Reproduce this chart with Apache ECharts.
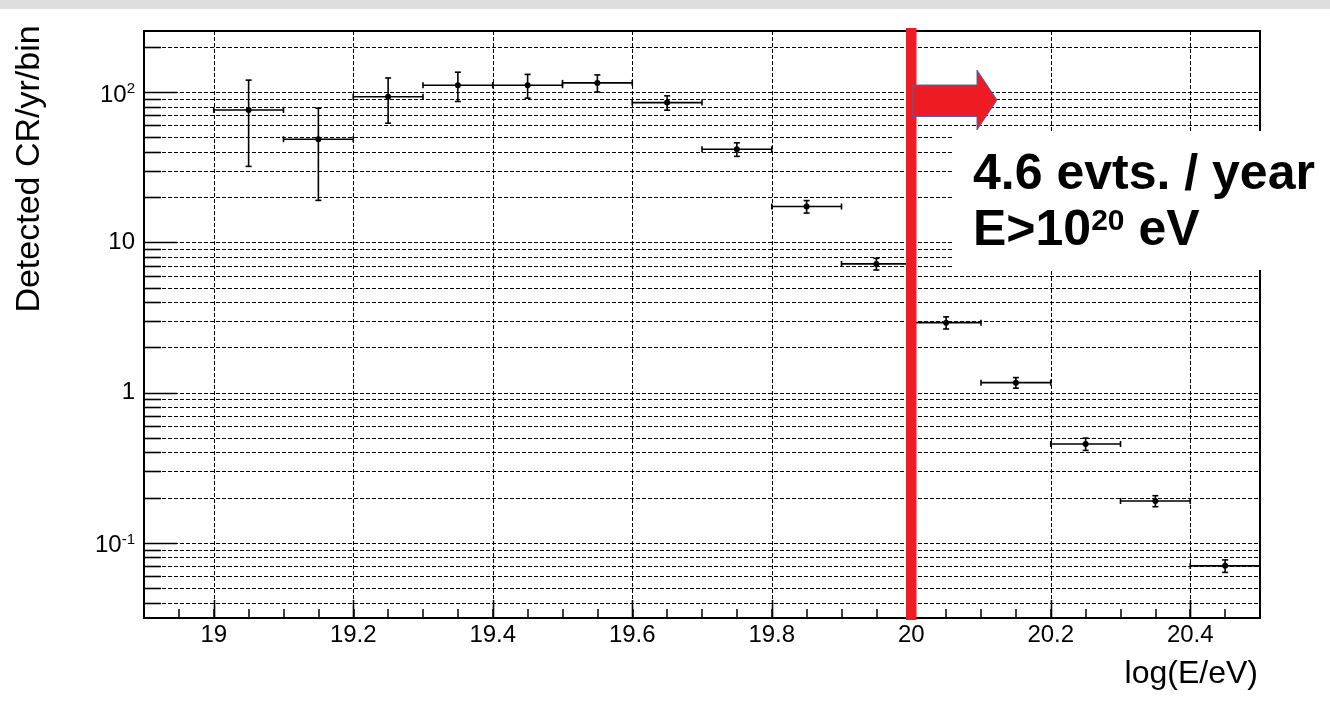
<!DOCTYPE html>
<html><head><meta charset="utf-8">
<script src="https://cdn.jsdelivr.net/npm/echarts@6/dist/echarts.min.js"></script>
<style>html,body{margin:0;padding:0;background:#fff}#c{width:1330px;height:718px}</style>
</head><body><div id="c"></div>
<script>
// ---- data ----
const binCenters = [19.05, 19.15, 19.25, 19.35, 19.45, 19.55, 19.65, 19.75, 19.85, 19.95, 20.05, 20.15, 20.25, 20.35, 20.45];
const binHalfWidth = 0.05;
const counts = [76, 48.5, 93, 111, 111, 115, 85, 41.6, 17.3, 7.18, 2.92, 1.164, 0.455, 0.190, 0.0703];
const countErrors = [44, 29.5, 31, 24.5, 20, 15, 9.3, 4.3, 1.65, 0.64, 0.27, 0.094, 0.043, 0.016, 0.0067];
const xGridValues = [19, 19.2, 19.4, 19.6, 19.8, 20, 20.2, 20.4];
const yMajorValues = [0.1, 1, 10, 100];
const yMinorValues = [0.04, 0.05, 0.06, 0.07, 0.08, 0.09, 0.2, 0.3, 0.4, 0.5, 0.6, 0.7, 0.8, 0.9,
  2, 3, 4, 5, 6, 7, 8, 9, 20, 30, 40, 50, 60, 70, 80, 90, 200];
const cutEnergy = 20;
const annotationLines = ['4.6 evts. / year', 'E>10{s|20} eV'];
const xTitle = 'log(E/eV)';
const yTitle = 'Detected CR/yr/bin';
const xMin = 18.9, xMax = 20.5, xTickStep = 0.05;
const yMin = Math.pow(10, -1.5), yMax = Math.pow(10, 2.406);

const FONT = '"Liberation Sans", Arial, Helvetica, sans-serif';
const chart = echarts.init(document.getElementById('c'), null, {renderer: 'canvas'});

const yGridRows = yMajorValues.map(v => [xMin, v, 1]).concat(yMinorValues.map(v => [xMin, v, 0]));
const xGridRows = xGridValues.map(v => [v, yMin]);
const pointRows = binCenters.map((x, i) => [x, counts[i], countErrors[i]]);
const DASH = [4, 2];

function px(v) { return Math.round(v) + 0.5; }

const option = {
  backgroundColor: '#fff',
  animation: false,
  grid: {left: 144, right: 70, top: 31, bottom: 100, show: true, borderColor: '#000', borderWidth: 2,
    backgroundColor: 'transparent', containLabel: false, outerBoundsMode: 'none'},
  xAxis: {
    type: 'value', min: xMin, max: xMax, interval: xTickStep,
    axisLine: {show: true, onZero: false, lineStyle: {color: '#000', width: 2}},
    axisTick: {show: true, inside: true, length: 9, lineStyle: {color: '#000', width: 1.5}},
    splitLine: {show: false},
    axisLabel: {
      show: true, margin: 5, color: '#000', fontSize: 24, fontFamily: FONT,
      showMinLabel: true, showMaxLabel: true,
      formatter: v => {
        const k = v * 5;
        if (Math.abs(k - Math.round(k)) > 1e-6) return '';
        const r = Math.round(k) / 5;
        return Number.isInteger(r) ? String(r) : r.toFixed(1);
      }
    }
  },
  yAxis: {
    type: 'log', logBase: 10, min: yMin, max: yMax,
    axisLine: {show: true, lineStyle: {color: '#000', width: 2}},
    axisTick: {show: false},
    splitLine: {show: false},
    axisLabel: {
      show: true, margin: 9, color: '#000', fontSize: 24, fontFamily: FONT,
      showMinLabel: true, showMaxLabel: true,
      formatter: v => {
        const lg = Math.log10(v);
        const e = Math.round(lg);
        if (Math.abs(lg - e) > 1e-6) return '';
        if (e === 0) return '{m|1}';
        if (e === 1) return '{m|10}';
        return '{n|10}{s|' + e + '}';
      },
      rich: {
        m: {fontSize: 24, fontFamily: FONT, color: '#000'},
        n: {fontSize: 24, fontFamily: FONT, color: '#000', padding: [6, 0, 0, 0]},
        s: {fontSize: 15, fontFamily: FONT, color: '#000', padding: [0, 0, 6, 0]}
      }
    }
  },
  series: [
    { // horizontal grid lines + y ticks
      type: 'custom', z: 1, silent: true, clip: false,
      data: yGridRows,
      renderItem: (params, api) => {
        const cs = params.coordSys;
        const y = px(api.coord([api.value(0), api.value(1)])[1]);
        const major = api.value(2) === 1;
        return {type: 'group', children: [
          {type: 'line', shape: {x1: cs.x, y1: y, x2: cs.x + cs.width, y2: y},
            style: {stroke: '#000', lineWidth: 1, lineDash: DASH}},
          {type: 'line', shape: {x1: cs.x, y1: y, x2: cs.x + (major ? 33 : 17), y2: y},
            style: {stroke: '#000', lineWidth: 1.6}}
        ]};
      }
    },
    { // vertical grid lines + major x ticks
      type: 'custom', z: 1, silent: true, clip: false,
      data: xGridRows,
      renderItem: (params, api) => {
        const cs = params.coordSys;
        const x = px(api.coord([api.value(0), api.value(1)])[0]);
        const b = cs.y + cs.height;
        return {type: 'group', children: [
          {type: 'line', shape: {x1: x, y1: cs.y, x2: x, y2: b},
            style: {stroke: '#000', lineWidth: 1, lineDash: DASH}},
          {type: 'line', shape: {x1: x, y1: b, x2: x, y2: b - 18},
            style: {stroke: '#000', lineWidth: 1.6}}
        ]};
      }
    },
    { // data points with error bars
      type: 'custom', z: 3, clip: false,
      data: pointRows,
      renderItem: (params, api) => {
        const x = api.value(0), y = api.value(1), e = api.value(2);
        const c = api.coord([x, y]);
        const l = api.coord([x - binHalfWidth, y]);
        const r = api.coord([x + binHalfWidth, y]);
        const t = api.coord([x, y + e]);
        const b = api.coord([x, y - e]);
        const st = {stroke: '#000', lineWidth: 1.6};
        const cap = 3;
        return {type: 'group', children: [
          {type: 'line', shape: {x1: l[0], y1: c[1], x2: r[0], y2: c[1]}, style: st},
          {type: 'line', shape: {x1: l[0], y1: c[1] - cap, x2: l[0], y2: c[1] + cap}, style: st},
          {type: 'line', shape: {x1: r[0], y1: c[1] - cap, x2: r[0], y2: c[1] + cap}, style: st},
          {type: 'line', shape: {x1: c[0], y1: t[1], x2: c[0], y2: b[1]}, style: st},
          {type: 'line', shape: {x1: c[0] - cap, y1: t[1], x2: c[0] + cap, y2: t[1]}, style: st},
          {type: 'line', shape: {x1: c[0] - cap, y1: b[1], x2: c[0] + cap, y2: b[1]}, style: st},
          {type: 'circle', shape: {cx: c[0], cy: c[1], r: 3}, style: {fill: '#000'}}
        ]};
      }
    },
    { // cut line at 10^20 eV
      type: 'custom', z: 5, silent: true, clip: false,
      data: [[cutEnergy, yMax]],
      renderItem: (params, api) => {
        const cs = params.coordSys;
        const p = api.coord([api.value(0), api.value(1)]);
        return {type: 'rect', shape: {x: p[0] - 5.25, y: cs.y - 3, width: 10.5, height: cs.height + 5},
          style: {fill: '#ED1C24'}};
      }
    }
  ],
  graphic: [
    {type: 'rect', z: 100, silent: true, shape: {x: 0, y: 0, width: 1330, height: 9}, style: {fill: '#dedede'}},
    {type: 'rect', z: 100, silent: true, shape: {x: 952, y: 131, width: 378, height: 139}, style: {fill: '#fff'}},
    {type: 'polygon', z: 101, silent: true,
      shape: {points: [[913, 85], [977, 85], [977, 70], [997, 100], [977, 130], [977, 116.5], [913, 116.5]]},
      style: {fill: '#ED1C24', stroke: '#4a68a6', lineWidth: 1}},
    {type: 'text', z: 102, silent: true,
      style: {text: annotationLines[0], x: 973, y: 175, fontSize: 50, fontWeight: 'bold', fontFamily: FONT,
        fill: '#000', align: 'left', verticalAlign: 'middle'}},
    {type: 'text', z: 102, silent: true,
      style: {text: annotationLines[1], x: 973, y: 231, fontSize: 50, fontWeight: 'bold', fontFamily: FONT,
        fill: '#000', align: 'left', verticalAlign: 'middle',
        rich: {s: {fontSize: 30, fontWeight: 'bold', fontFamily: FONT, fill: '#000', padding: [0, 0, 18, 0]}}}},
    {type: 'text', z: 102, silent: true,
      style: {text: xTitle, x: 1258, y: 674, fontSize: 32, fontFamily: FONT, fill: '#000',
        align: 'right', verticalAlign: 'middle'}},
    {type: 'text', z: 102, silent: true, x: 30, y: 169, rotation: Math.PI / 2,
      style: {text: yTitle, x: 0, y: 0, fontSize: 34, fontFamily: FONT, fill: '#000',
        align: 'center', verticalAlign: 'middle'}}
  ]
};
chart.setOption(option);
</script>
</body></html>
